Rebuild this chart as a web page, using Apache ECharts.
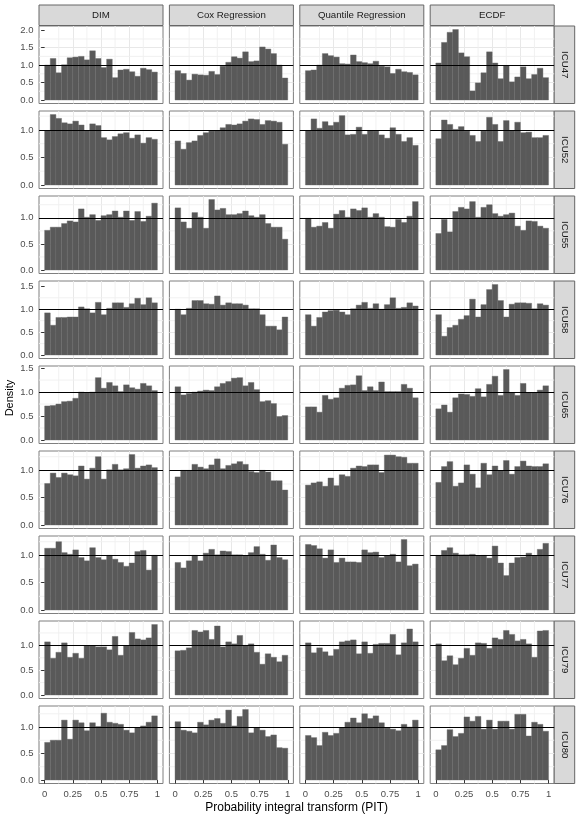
<!DOCTYPE html>
<html>
<head>
<meta charset="utf-8">
<script src="https://cdn.jsdelivr.net/npm/echarts@6/dist/echarts.min.js"></script>
<style>
html, body { margin: 0; padding: 0; background: #fff; }
#chart { width: 581px; height: 821px; }
</style>
</head>
<body>
<div id="chart"></div>
<script>
// facet labels
const methods = ['DIM', 'Cox Regression', 'Quantile Regression', 'ECDF'];
const units = ['ICU47', 'ICU52', 'ICU55', 'ICU58', 'ICU65', 'ICU76', 'ICU77', 'ICU79', 'ICU80'];

// histogram bins (20 bins on [0, 1])
const binEdges = [0, 0.05, 0.1, 0.15, 0.2, 0.25, 0.3, 0.35, 0.4, 0.45, 0.5,
                  0.55, 0.6, 0.65, 0.7, 0.75, 0.8, 0.85, 0.9, 0.95, 1];
const xTicks = [0, 0.25, 0.5, 0.75, 1];
const xMinor = [0.125, 0.375, 0.625, 0.875];
const yTicks = [0, 0.5, 1, 1.5, 2];
const yMinor = [0.25, 0.75, 1.25, 1.75];
const refLine = 1;

// densities per bin
const ICU47_DIM  = [1.00, 1.19, 0.78, 1.01, 1.21, 1.23, 1.25, 1.15, 1.41, 1.19, 0.93, 1.17, 0.64, 0.86, 0.88, 0.81, 0.68, 0.91, 0.87, 0.80];
const ICU47_COX  = [0.84, 0.76, 0.57, 0.74, 0.72, 0.71, 0.82, 0.73, 0.97, 1.08, 1.24, 1.20, 1.38, 1.10, 1.12, 1.52, 1.46, 1.33, 1.00, 0.63];
const ICU47_QR   = [0.84, 0.86, 1.00, 1.33, 1.27, 1.23, 1.04, 1.03, 1.29, 1.10, 1.07, 1.04, 1.11, 0.97, 0.95, 0.76, 0.88, 0.81, 0.79, 0.72];
const ICU47_ECDF = [1.06, 1.65, 1.94, 2.02, 1.35, 1.24, 0.26, 0.49, 0.78, 1.38, 1.06, 0.61, 0.99, 0.52, 0.66, 0.95, 0.61, 0.73, 0.91, 0.64];

const ICU52_DIM  = [0.99, 1.28, 1.21, 1.13, 1.11, 1.16, 1.09, 0.99, 1.11, 1.08, 0.86, 0.82, 0.88, 0.93, 0.95, 0.85, 0.91, 0.76, 0.86, 0.83];
const ICU52_COX  = [0.80, 0.65, 0.77, 0.80, 0.90, 0.95, 0.98, 0.99, 1.04, 1.10, 1.09, 1.11, 1.16, 1.20, 1.19, 1.10, 1.17, 1.16, 1.14, 0.74];
const ICU52_QR   = [0.99, 1.20, 1.03, 1.15, 1.08, 1.14, 1.26, 0.91, 0.92, 1.05, 0.92, 0.99, 0.98, 0.91, 0.85, 1.04, 0.92, 0.79, 0.86, 0.72];
const ICU52_ECDF = [0.84, 1.18, 1.10, 1.01, 1.06, 0.98, 0.90, 0.79, 0.98, 1.23, 1.10, 0.79, 1.17, 0.99, 1.14, 0.95, 0.96, 0.86, 0.86, 0.90];

const ICU55_DIM  = [0.76, 0.82, 0.82, 0.89, 0.94, 0.92, 1.17, 1.01, 1.06, 0.95, 1.04, 1.06, 1.13, 1.01, 1.13, 0.95, 1.12, 0.93, 1.03, 1.28];
const ICU55_COX  = [1.19, 0.92, 0.80, 1.10, 1.01, 0.80, 1.35, 1.15, 1.18, 1.06, 1.06, 1.08, 1.13, 1.04, 1.01, 1.06, 0.89, 0.82, 0.82, 0.59];
const ICU55_QR   = [0.99, 0.82, 0.84, 0.91, 0.80, 1.07, 1.14, 1.01, 1.17, 1.14, 1.19, 1.01, 1.08, 1.01, 0.83, 0.82, 0.97, 0.91, 1.03, 1.31];
const ICU55_ECDF = [0.70, 0.97, 0.73, 1.12, 1.20, 1.17, 1.31, 1.01, 1.20, 1.25, 1.08, 1.03, 1.06, 1.09, 0.84, 0.76, 0.94, 0.93, 0.84, 0.80];

const ICU58_DIM  = [0.92, 0.65, 0.82, 0.82, 0.83, 0.83, 1.05, 1.01, 0.92, 1.15, 0.88, 1.02, 1.14, 1.14, 1.04, 1.12, 1.24, 1.10, 1.25, 1.14];
const ICU58_COX  = [1.00, 0.88, 1.02, 1.19, 1.19, 1.12, 1.11, 1.29, 1.09, 1.14, 1.12, 1.12, 1.09, 1.01, 1.01, 0.88, 0.63, 0.63, 0.55, 0.83];
const ICU58_QR   = [0.88, 0.63, 0.82, 0.94, 0.97, 0.98, 0.94, 0.88, 1.01, 1.09, 1.15, 1.02, 1.12, 1.00, 1.10, 1.25, 1.02, 1.04, 1.14, 1.07];
const ICU58_ECDF = [0.88, 0.41, 0.60, 0.65, 0.78, 0.86, 1.22, 0.83, 1.10, 1.43, 1.54, 1.19, 0.83, 1.11, 1.14, 1.14, 1.13, 1.01, 1.12, 1.09];

const ICU65_DIM  = [0.71, 0.72, 0.75, 0.80, 0.81, 0.87, 1.00, 0.98, 1.00, 1.30, 1.08, 1.20, 1.13, 1.01, 1.15, 1.09, 1.06, 1.18, 1.13, 1.03];
const ICU65_COX  = [1.11, 0.94, 0.97, 1.00, 1.02, 1.04, 1.03, 1.11, 1.18, 1.22, 1.29, 1.30, 1.13, 1.20, 1.05, 0.80, 0.82, 0.76, 0.49, 0.51];
const ICU65_QR   = [0.69, 0.69, 0.58, 0.93, 0.85, 0.88, 1.08, 1.14, 1.15, 1.34, 1.03, 1.11, 1.03, 1.21, 1.01, 1.01, 1.01, 1.16, 1.08, 0.88];
const ICU65_ECDF = [0.65, 0.73, 0.58, 0.88, 0.96, 0.95, 0.91, 1.07, 0.90, 1.16, 1.33, 0.93, 1.47, 0.99, 0.93, 1.18, 0.99, 0.99, 1.04, 1.13];

const ICU76_DIM  = [0.76, 0.95, 0.87, 0.95, 0.92, 0.90, 1.08, 0.84, 1.04, 1.25, 0.84, 1.01, 1.11, 1.01, 1.03, 1.29, 1.04, 1.08, 1.10, 1.05];
const ICU76_COX  = [0.88, 1.00, 1.00, 1.11, 1.06, 1.03, 1.10, 1.21, 1.03, 1.09, 1.12, 1.16, 1.11, 0.98, 0.96, 1.00, 0.97, 0.81, 0.81, 0.64];
const ICU76_QR   = [0.73, 0.77, 0.79, 0.71, 0.86, 0.72, 0.92, 0.89, 1.04, 1.08, 1.07, 1.10, 1.10, 0.96, 1.28, 1.28, 1.25, 1.24, 1.13, 1.13];
const ICU76_ECDF = [0.78, 1.07, 1.16, 0.71, 0.77, 1.10, 0.93, 0.68, 1.13, 0.92, 1.08, 0.99, 1.18, 0.93, 1.07, 1.17, 1.08, 1.07, 1.07, 1.12];

const ICU77_DIM  = [1.13, 1.13, 1.25, 1.05, 1.02, 1.10, 0.96, 0.90, 1.14, 0.96, 0.92, 1.00, 0.93, 0.87, 0.80, 0.86, 1.07, 1.09, 0.73, 1.00];
const ICU77_COX  = [0.87, 0.77, 0.90, 1.00, 0.90, 1.04, 1.11, 1.01, 1.08, 1.07, 1.01, 1.01, 0.99, 1.05, 1.16, 1.02, 0.91, 1.19, 0.96, 0.92];
const ICU77_QR   = [1.20, 1.18, 1.12, 0.95, 1.10, 0.87, 0.95, 0.88, 0.88, 0.87, 1.10, 1.05, 1.06, 0.96, 0.99, 1.02, 0.88, 1.29, 0.81, 0.84];
const ICU77_ECDF = [1.00, 1.09, 1.14, 1.04, 1.01, 1.01, 1.02, 0.99, 1.00, 0.95, 1.17, 0.86, 0.63, 0.86, 0.96, 0.97, 1.04, 0.99, 1.11, 1.22];

const ICU79_DIM  = [1.07, 0.74, 0.86, 1.05, 0.76, 0.84, 0.74, 0.99, 0.99, 0.97, 0.97, 0.91, 1.18, 0.80, 0.99, 1.26, 1.13, 1.11, 1.15, 1.42];
const ICU79_COX  = [0.89, 0.90, 0.95, 1.30, 1.27, 1.30, 1.12, 1.39, 0.97, 1.07, 1.03, 1.20, 1.00, 1.03, 0.86, 0.62, 0.83, 0.76, 0.67, 0.80];
const ICU79_QR   = [1.05, 0.85, 0.95, 0.87, 0.79, 0.92, 1.07, 1.09, 1.11, 0.83, 1.07, 0.84, 1.02, 1.04, 1.04, 1.22, 0.81, 1.05, 1.33, 1.07];
const ICU79_ECDF = [1.03, 0.69, 0.79, 0.61, 0.74, 0.94, 0.80, 1.05, 1.04, 0.94, 1.15, 1.12, 1.30, 1.22, 1.09, 1.12, 1.03, 0.76, 1.29, 1.30];

const ICU80_DIM  = [0.71, 0.75, 0.75, 1.13, 0.77, 1.13, 1.08, 0.93, 1.08, 1.01, 1.26, 1.09, 1.07, 1.05, 0.94, 0.89, 0.99, 1.02, 1.09, 1.21];
const ICU80_COX  = [1.10, 0.94, 0.92, 0.89, 1.09, 1.04, 1.13, 1.16, 1.07, 1.32, 1.02, 1.20, 1.33, 0.89, 0.99, 0.94, 0.82, 0.85, 0.61, 0.60];
const ICU80_QR   = [0.84, 0.80, 0.65, 0.90, 0.84, 0.88, 0.99, 1.09, 1.17, 1.08, 1.25, 1.16, 1.21, 1.08, 0.98, 0.96, 0.93, 1.05, 1.00, 1.13];
const ICU80_ECDF = [0.57, 0.65, 0.95, 0.82, 0.88, 1.19, 1.11, 1.20, 0.96, 1.13, 0.96, 1.11, 1.11, 0.96, 1.24, 1.24, 0.83, 1.09, 1.05, 0.92];

const panels = [
    [ICU47_DIM, ICU47_COX, ICU47_QR, ICU47_ECDF],
    [ICU52_DIM, ICU52_COX, ICU52_QR, ICU52_ECDF],
    [ICU55_DIM, ICU55_COX, ICU55_QR, ICU55_ECDF],
    [ICU58_DIM, ICU58_COX, ICU58_QR, ICU58_ECDF],
    [ICU65_DIM, ICU65_COX, ICU65_QR, ICU65_ECDF],
    [ICU76_DIM, ICU76_COX, ICU76_QR, ICU76_ECDF],
    [ICU77_DIM, ICU77_COX, ICU77_QR, ICU77_ECDF],
    [ICU79_DIM, ICU79_COX, ICU79_QR, ICU79_ECDF],
    [ICU80_DIM, ICU80_COX, ICU80_QR, ICU80_ECDF]
];

// layout
const FONT = '"Liberation Sans", Arial, Helvetica, sans-serif';
const PANEL_LEFT = 39, COL_PITCH = 130.4, PANEL_W = 124;
const PANEL_TOP = 26, ROW_PITCH = 85, PANEL_H = 77.5;
const STRIP = 20.5;

const grids = [], xAxes = [], yAxes = [], series = [], graphics = [];

function renderMinor(params, api) {
    const cs = params.coordSys;
    const v = api.value(1);
    const style = { stroke: '#efefef', lineWidth: 0.9 };
    if (api.value(0) === 0) {
        const px = api.coord([v, 0])[0];
        return { type: 'line', silent: true, shape: { x1: px, y1: cs.y, x2: px, y2: cs.y + cs.height }, style: style };
    }
    const py = api.coord([0, v])[1];
    return { type: 'line', silent: true, shape: { x1: cs.x, y1: py, x2: cs.x + cs.width, y2: py }, style: style };
}

function renderBar(params, api) {
    const p0 = api.coord([api.value(0), api.value(2)]);
    const p1 = api.coord([api.value(1), 0]);
    return {
        type: 'rect',
        shape: { x: p0[0], y: p0[1], width: p1[0] - p0[0], height: p1[1] - p0[1] },
        style: { fill: '#595959', stroke: '#686868', lineWidth: 0.4 }
    };
}

units.forEach(function (unit, r) {
    const rowMax = Math.max.apply(null, panels[r].map(function (d) { return Math.max.apply(null, d); }));
    const yLo = -0.05 * rowMax, yHi = 1.05 * rowMax;
    const rowTicks = yTicks.filter(function (t) { return t <= yHi; });
    const rowMinor = yMinor.filter(function (t) { return t <= yHi; });
    const top = PANEL_TOP + r * ROW_PITCH;

    methods.forEach(function (m, c) {
        const i = grids.length;
        const left = PANEL_LEFT + c * COL_PITCH;
        const isBottom = r === units.length - 1;
        grids.push({
            left: left, top: top, width: PANEL_W, height: PANEL_H,
            show: true, backgroundColor: '#fff', borderColor: '#7f7f7f', borderWidth: 1,
            containLabel: false
        });
        xAxes.push({
            type: 'value', gridIndex: i, min: -0.05, max: 1.05,
            minInterval: 0.25, maxInterval: 0.25,
            axisLine: { show: false },
            axisTick: { show: isBottom, length: 3.5, customValues: xTicks, lineStyle: { color: '#333', width: 1 } },
            axisLabel: {
                show: isBottom, customValues: xTicks, margin: 5.5, fontSize: 9.5, color: '#4d4d4d', fontFamily: FONT,
                formatter: function (v) { return xTicks.indexOf(v) >= 0 ? String(v) : ''; }
            },
            splitLine: { show: true, showMinLine: false, showMaxLine: false, lineStyle: { color: '#e8e8e8', width: 1 } }
        });
        yAxes.push({
            type: 'value', gridIndex: i, min: yLo, max: yHi,
            minInterval: 0.5, maxInterval: 0.5,
            axisLine: { show: false },
            axisTick: { show: c === 0, length: 3.5, customValues: rowTicks, lineStyle: { color: '#333', width: 1 } },
            axisLabel: {
                show: c === 0, customValues: rowTicks, margin: 5.5, fontSize: 9.5, color: '#4d4d4d', fontFamily: FONT,
                formatter: function (v) { return rowTicks.indexOf(v) >= 0 ? v.toFixed(1) : ''; }
            },
            splitLine: { show: true, showMinLine: false, showMaxLine: false, lineStyle: { color: '#e8e8e8', width: 1 } }
        });

        const minorData = xMinor.map(function (v) { return [0, v]; })
            .concat(rowMinor.map(function (v) { return [1, v]; }));
        series.push({
            type: 'custom', xAxisIndex: i, yAxisIndex: i, z: 1, silent: true,
            renderItem: renderMinor, data: minorData
        });

        const bars = panels[r][c].map(function (y, k) { return [binEdges[k], binEdges[k + 1], y]; });
        series.push({
            type: 'custom', xAxisIndex: i, yAxisIndex: i, z: 2, silent: true,
            encode: { x: [0, 1], y: 2 },
            renderItem: renderBar, data: bars,
            markLine: {
                silent: true, symbol: 'none', label: { show: false },
                lineStyle: { color: '#000', width: 1, type: 'solid' },
                data: [{ yAxis: refLine }]
            }
        });

        if (r === 0) {
            graphics.push({
                type: 'rect', shape: { x: left, y: 5, width: PANEL_W, height: STRIP },
                style: { fill: '#d9d9d9', stroke: '#666', lineWidth: 1 }
            });
            graphics.push({
                type: 'text', x: left + PANEL_W / 2, y: 5 + STRIP / 2,
                style: { text: m, fill: '#1a1a1a', font: '9.7px ' + FONT, align: 'center', verticalAlign: 'middle' }
            });
        }
    });

    const sx = PANEL_LEFT + 3 * COL_PITCH + PANEL_W;
    graphics.push({
        type: 'rect', shape: { x: sx, y: top, width: STRIP, height: PANEL_H },
        style: { fill: '#d9d9d9', stroke: '#666', lineWidth: 1 }
    });
    graphics.push({
        type: 'text', x: sx + STRIP / 2, y: top + PANEL_H / 2, rotation: -Math.PI / 2,
        style: { text: unit, fill: '#1a1a1a', font: '9.7px ' + FONT, align: 'center', verticalAlign: 'middle' }
    });
});

// axis titles
graphics.push({
    type: 'text', x: 10, y: 398, rotation: Math.PI / 2,
    style: { text: 'Density', fill: '#000', font: '11px ' + FONT, align: 'center', verticalAlign: 'middle' }
});
graphics.push({
    type: 'text', x: PANEL_LEFT + (3 * COL_PITCH + PANEL_W) / 2, y: 808,
    style: { text: 'Probability integral transform (PIT)', fill: '#000', font: '12px ' + FONT, align: 'center', verticalAlign: 'middle' }
});

const chart = echarts.init(document.getElementById('chart'), null, { renderer: 'canvas' });
chart.setOption({
    animation: false,
    backgroundColor: '#fff',
    grid: grids,
    xAxis: xAxes,
    yAxis: yAxes,
    series: series,
    graphic: graphics
});
</script>
</body>
</html>
